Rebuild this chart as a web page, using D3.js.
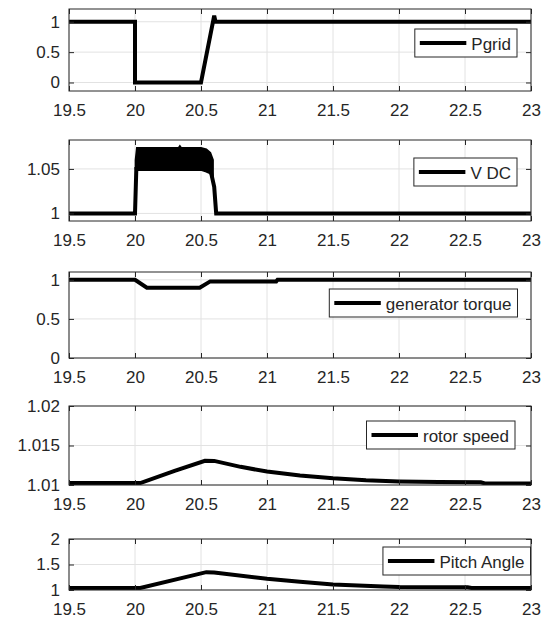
<!DOCTYPE html>
<html>
<head>
<meta charset="utf-8">
<script src="https://cdn.jsdelivr.net/npm/d3@7"></script>
<style>
  body { margin: 0; background: #fff; }
  text { font-family: "Liberation Sans", Arial, Helvetica, sans-serif; fill: #262626; }
</style>
</head>
<body>
<svg id="fig" width="543" height="620"></svg>
<script>
// time axis shared by all five subplots
var xTicks = [19.5, 20, 20.5, 21, 21.5, 22, 22.5, 23];

// [time, value]
var pgrid = [[19.5, 1], [20, 1], [20, 0], [20.5, 0], [20.6, 1.1], [20.61, 1], [23, 1]];

var vdcLine = [[19.5, 1], [20, 1], [20.01, 1.05], [20.57, 1.05], [20.6, 1.03], [20.615, 1], [23, 1]];
// ripple envelope of V DC: [time, low, high]
var vdcBand = [[20.005, 1.05, 1.06], [20.015, 1.049, 1.0735], [20.33, 1.049, 1.0735], [20.34, 1.049, 1.0755],
  [20.35, 1.049, 1.0735], [20.5, 1.049, 1.0735], [20.54, 1.047, 1.072], [20.57, 1.045, 1.068], [20.59, 1.04, 1.06]];

var torque = [[19.5, 1], [20, 1], [20.09, 0.9], [20.49, 0.9], [20.57, 0.98], [21.07, 0.98], [21.08, 1], [23, 1]];

var rotorSpeed = [[19.5, 1.01025], [20.04, 1.01025], [20.3, 1.0118], [20.53, 1.01307], [20.6, 1.01305],
  [20.8, 1.0123], [21, 1.0117], [21.25, 1.0112], [21.5, 1.01085], [21.75, 1.0106], [22, 1.01045],
  [22.3, 1.01038], [22.62, 1.01035], [22.65, 1.0102], [23, 1.0102]];

var pitchAngle = [[19.5, 1.04], [20.04, 1.04], [20.54, 1.35], [20.6, 1.345], [21, 1.22], [21.25, 1.16],
  [21.5, 1.11], [21.88, 1.07], [22, 1.06], [22.52, 1.055], [22.55, 1.04], [23, 1.04]];

var names = ["Pgrid", "V DC", "generator torque", "rotor speed", "Pitch Angle"];
var yDomains = [[-0.14, 1.21], [0.9915, 1.0825], [0, 1.1], [1.01, 1.02], [1, 2]];
var yTicks = [[0, 0.5, 1], [1, 1.05], [0, 0.5, 1], [1.01, 1.015, 1.02], [1, 1.5, 2]];

// layout of each subplot (pixels)
var layout = [
  {top: 9, bottom: 91, legRight: 517, legTop: 29},
  {top: 140, bottom: 221, legRight: 517, legTop: 158},
  {top: 272, bottom: 358, legRight: 517.5, legTop: 289},
  {top: 406, bottom: 485, legRight: 515, legTop: 421},
  {top: 539, bottom: 590, legRight: 530.5, legTop: 547}
];
var series = [pgrid, vdcLine, torque, rotorSpeed, pitchAngle];

var svg = d3.select("#fig");
var left = 69, right = 531;
var axisColor = "#262626", gridColor = "#e2e2e2";
var x = d3.scaleLinear().domain([19.5, 23]).range([left, right]);

layout.forEach(function(p, i) {
  var y = d3.scaleLinear().domain(yDomains[i]).range([p.bottom, p.top]);
  var g = svg.append("g");

  g.append("clipPath").attr("id", "clip" + i)
    .append("rect").attr("x", left).attr("y", p.top)
    .attr("width", right - left).attr("height", p.bottom - p.top);

  // grid
  g.selectAll(".gx").data(xTicks).enter().append("line")
    .attr("x1", d => x(d)).attr("x2", d => x(d))
    .attr("y1", p.top).attr("y2", p.bottom)
    .attr("stroke", gridColor).attr("stroke-width", 1);
  g.selectAll(".gy").data(yTicks[i]).enter().append("line")
    .attr("x1", left).attr("x2", right)
    .attr("y1", d => y(d)).attr("y2", d => y(d))
    .attr("stroke", gridColor).attr("stroke-width", 1);

  var plot = g.append("g").attr("clip-path", "url(#clip" + i + ")");

  if (i === 1) {
    var band = d3.area().x(d => x(d[0])).y0(d => y(d[1])).y1(d => y(d[2]));
    plot.append("path").attr("d", band(vdcBand))
      .attr("fill", "#000").attr("stroke", "#000").attr("stroke-width", 2);
  }

  var line = d3.line().x(d => x(d[0])).y(d => y(d[1]));
  plot.append("path").attr("d", line(series[i]))
    .attr("fill", "none").attr("stroke", "#000").attr("stroke-width", 4);

  // axes with inward ticks, on all four sides
  var tl = 5;
  g.append("g").attr("transform", "translate(0," + p.bottom + ")")
    .call(d3.axisBottom(x).tickValues(xTicks).tickSizeInner(-tl).tickSizeOuter(0).tickPadding(13).tickFormat(d => String(d)));
  g.append("g").attr("transform", "translate(0," + p.top + ")")
    .call(d3.axisTop(x).tickValues(xTicks).tickSizeInner(-tl).tickSizeOuter(0).tickFormat(""));
  g.append("g").attr("transform", "translate(" + left + ",0)")
    .call(d3.axisLeft(y).tickValues(yTicks[i]).tickSizeInner(-tl).tickSizeOuter(0).tickPadding(9).tickFormat(d => String(d)));
  g.append("g").attr("transform", "translate(" + right + ",0)")
    .call(d3.axisRight(y).tickValues(yTicks[i]).tickSizeInner(-tl).tickSizeOuter(0).tickFormat(""));

  g.selectAll(".domain").remove();
  g.selectAll(".tick line").attr("stroke", axisColor);
  g.selectAll(".tick text").attr("font-size", 17).attr("fill", axisColor)
    .attr("font-family", "Liberation Sans, Arial, sans-serif");

  g.append("rect").attr("x", left).attr("y", p.top)
    .attr("width", right - left).attr("height", p.bottom - p.top)
    .attr("fill", "none").attr("stroke", axisColor).attr("stroke-width", 1);

  // legend
  var leg = g.append("g");
  var box = leg.append("rect").attr("fill", "#fff").attr("stroke", axisColor).attr("stroke-width", 1);
  var txt = leg.append("text").text(names[i]).attr("font-size", 17)
    .attr("dominant-baseline", "central");
  var tw = txt.node().getComputedTextLength();
  var lx = p.legRight - (5 + 46.5 + 5 + tw + 6);
  var cy = p.legTop + 14;
  box.attr("x", lx).attr("y", p.legTop).attr("width", p.legRight - lx).attr("height", 28);
  leg.append("line").attr("x1", lx + 5).attr("x2", lx + 51.5).attr("y1", cy).attr("y2", cy)
    .attr("stroke", "#000").attr("stroke-width", 4);
  txt.attr("x", lx + 56.5).attr("y", cy + 1);
});
</script>
</body>
</html>
